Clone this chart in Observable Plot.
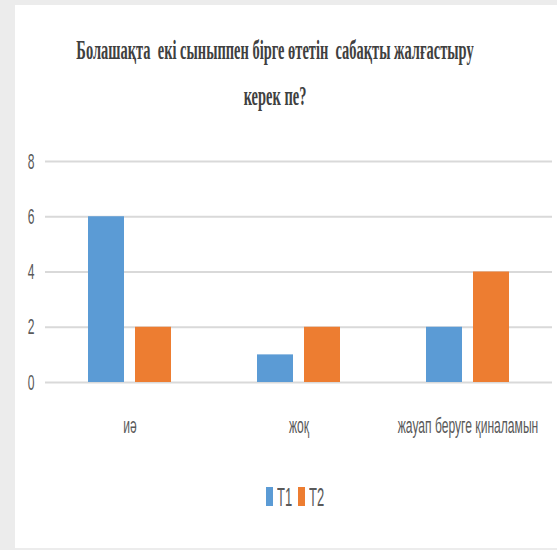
<!DOCTYPE html>
<html>
<head>
<meta charset="utf-8">
<script src="https://cdn.jsdelivr.net/npm/d3@7"></script>
<script src="https://cdn.jsdelivr.net/npm/@observablehq/plot@0.6"></script>
<style>
  html, body { margin: 0; padding: 0; }
  body { width: 557px; height: 550px; background: #ececec; position: relative; overflow: hidden; }
  #panel { position: absolute; left: 15px; top: 5px; width: 542px; height: 543px; background: #ffffff; }
  #title { position: absolute; left: -275px; top: 27px; width: 1100px; text-align: center;
           font-family: "Liberation Serif", serif; font-weight: bold; font-size: 28px; line-height: 46px;
           color: #404040; transform: scaleX(0.516); transform-origin: 550px 0; white-space: nowrap; }
  #chart { position: absolute; left: 0; top: 0; }
  #legend { position: absolute; left: 0; top: 0; width: 557px; height: 550px; pointer-events: none; }
  .lg-text { position: absolute; font-family: "Liberation Sans", sans-serif; font-size: 26px; line-height: 26px;
             color: #595959; transform: scaleX(0.5); transform-origin: 0 0; white-space: nowrap; }
  .lg-sw { position: absolute; width: 7px; height: 19px; }
</style>
</head>
<body>
<div id="panel"></div>
<div id="title">Болашақта&nbsp; екі сыныппен бірге өтетін&nbsp; сабақты жалғастыру<br>керек пе?</div>
<div id="chart"></div>
<div id="legend"></div>
<script>
const categories = ["иә", "жоқ", "жауап беруге қиналамын"];
const series = ["T1", "T2"];
const t1Values = [6, 1, 2];
const t2Values = [2, 2, 4];
const yTicks = [0, 2, 4, 6, 8];
const colors = ["#5b9bd5", "#ed7d31"];

const data = [];
categories.forEach((c, i) => {
  data.push({category: c, series: "T1", value: t1Values[i]});
  data.push({category: c, series: "T2", value: t2Values[i]});
});

const chart = Plot.plot({
  width: 557,
  height: 460,
  marginTop: 161,
  marginBottom: 78,
  marginLeft: 44,
  marginRight: 4,
  style: {background: "transparent", fontFamily: "'Liberation Sans', sans-serif", fontSize: "22px", color: "#595959"},
  fx: {domain: categories, padding: 0, label: null, tickSize: 0, tickPadding: 35, axis: "bottom"},
  x: {domain: series, axis: null, paddingInner: 0.229, paddingOuter: 0.885},
  y: {domain: [0, 8], ticks: yTicks, tickSize: 0, tickPadding: 11, label: null},
  color: {domain: series, range: colors},
  marks: [
    Plot.ruleY(yTicks, {stroke: "#d9d9d9", strokeWidth: 2}),
    Plot.barY(data, {fx: "category", x: "series", y: "value", fill: "series"})
  ]
});
// condense the axis texts horizontally, as in the reference
chart.querySelectorAll("text").forEach(t => {
  const tr = t.getAttribute("transform") || "";
  t.setAttribute("transform", tr + " scale(0.55,1)");
});
document.getElementById("chart").appendChild(chart);

// legend
const legend = document.getElementById("legend");
const legendX = [266, 298];
series.forEach((s, i) => {
  const sw = document.createElement("div");
  sw.className = "lg-sw";
  sw.style.left = legendX[i] + "px";
  sw.style.top = "487px";
  sw.style.background = colors[i];
  legend.appendChild(sw);
  const tx = document.createElement("div");
  tx.className = "lg-text";
  tx.style.left = (legendX[i] + 11) + "px";
  tx.style.top = "484px";
  tx.textContent = s;
  legend.appendChild(tx);
});
</script>
</body>
</html>
